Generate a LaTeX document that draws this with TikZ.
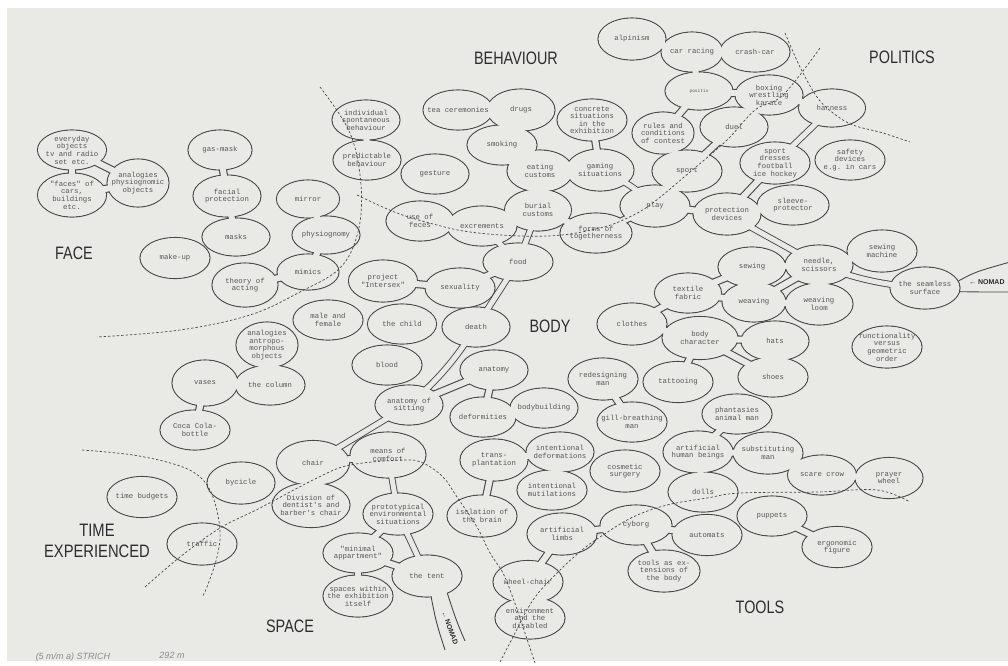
\documentclass[tikz,border=0pt]{standalone}
\usepackage{fontspec}
\usepackage{graphicx}
\usetikzlibrary{shapes.geometric}
\setmonofont{Liberation Mono}
\newfontfamily\hdfont{Liberation Sans}
\definecolor{paper}{RGB}{233,233,230}
\definecolor{ink}{RGB}{72,72,72}
\definecolor{txt}{RGB}{85,85,85}
\definecolor{headc}{RGB}{45,45,45}
\tikzset{
 bub/.style={ellipse, draw=ink, line width=1.1pt, fill=paper, inner sep=0pt},
 bubfill/.style={ellipse, fill=paper, inner sep=0pt},
 lbl/.style={align=center, font=\ttfamily\fontsize{7.3}{7.6}\selectfont, text=txt, inner sep=0pt},
 neck/.style={draw=ink, line width=1.1pt, double=paper, double distance=#1},
 neck/.default=6pt,
 road/.style={draw=ink, line width=0.9pt, double=paper, double distance=#1},
 road/.default=5pt,
 edgeline/.style={draw=ink, line width=0.9pt},
 zone/.style={draw=ink, line width=0.7pt, dash pattern=on 2.4pt off 2pt},
 heading/.style={font=\hdfont\fontsize{18}{21}\selectfont, text=headc, inner sep=0pt, align=center},
 nomadtxt/.style={font=\hdfont\bfseries\fontsize{7}{8}\selectfont, text=headc, inner sep=0pt},
}
\newcommand\bublist{%
\Bub{evd}{72}{150}{69}{40}{everyday\\objects\\tv and radio\\set etc.}%
\Bub{fcs}{72}{195}{69}{44}{"faces" of\\cars,\\buildings\\etc.}%
\Bub{anph}{138}{183}{62}{48}{analogies\\physiognomic\\objects}%
\Bub{gas}{220}{150}{64}{40}{gas-mask}%
\Bub{facp}{227}{196}{68}{42}{facial\\protection}%
\Bub{masks}{236}{237}{68}{38}{masks}%
\Bub{makeup}{175}{258}{70}{41}{make-up}%
\Bub{mirror}{308}{199}{63}{38}{mirror}%
\Bub{physio}{326}{235}{68}{38}{physiognomy}%
\Bub{mimics}{308}{272}{62}{36}{mimics}%
\Bub{theory}{245}{285}{66}{44}{theory of\\acting}%
\Bub{antropo}{267}{345}{62}{46}{analogies\\antropo-\\morphous\\objects}%
\Bub{column}{270}{385}{70}{40}{the column}%
\Bub{vases}{205}{383}{66}{46}{vases}%
\Bub{coca}{195}{430}{70}{40}{Coca Cola-\\bottle}%
\Bub{indiv}{366}{120}{68}{40}{individual\\spontaneous\\behaviour}%
\Bub{pred}{367}{160}{68}{40}{predictable\\behaviour}%
\Bub{tea}{458}{110}{70}{40}{tea ceremonies}%
\Bub{drugs}{521}{110}{68}{42}{drugs}%
\Bub{smoking}{502}{145}{70}{40}{smoking}%
\Bub{gesture}{435}{174}{68}{40}{gesture}%
\Bub{eating}{540}{171}{66}{42}{eating\\customs}%
\Bub{burial}{538}{210}{67}{42}{burial\\customs}%
\Bub{concrete}{592}{120}{70}{42}{concrete\\situations\\in the\\exhibition}%
\Bub{gaming}{600}{170}{68}{42}{gaming\\situations}%
\Bub{forms}{596}{233}{72}{40}{forms of\\togetherness}%
\Bub{play}{655}{206}{70}{42}{play}%
\Bub{sport}{687}{171}{70}{42}{sport}%
\Bub{rules}{663}{133}{62}{42}{rules and\\conditions\\of contest}%
\Bub{positiv}{699}{91}{68}{38}{\fontsize{4.5}{5}\selectfont positiv}%
\Bub{alpinism}{632}{39}{68}{42}{alpinism}%
\Bub{carracing}{692}{52}{62}{40}{car racing}%
\Bub{crashcar}{755}{52}{70}{40}{crash-car}%
\Bub{boxing}{769}{95}{68}{40}{boxing\\wrestling\\karate}%
\Bub{duel}{734}{127}{68}{40}{duel}%
\Bub{harness}{832}{108}{67}{38}{harness}%
\Bub{safety}{850}{160}{70}{40}{safety\\devices\\e.g. in cars}%
\Bub{sportdr}{775}{163}{70}{42}{sport\\dresses\\football\\ice hockey}%
\Bub{protect}{727}{214}{68}{42}{protection\\devices}%
\Bub{sleeve}{793}{205}{72}{40}{sleeve-\\protector}%
\Bub{feces}{420}{221}{68}{40}{use of\\feces}%
\Bub{excr}{482}{226}{70}{40}{excrements}%
\Bub{food}{518}{262}{70}{38}{food}%
\Bub{intersex}{383}{281}{69}{42}{project\\"Intersex"}%
\Bub{sexuality}{460}{288}{70}{40}{sexuality}%
\Bub{malefem}{328}{320}{70}{40}{male and\\female}%
\Bub{child}{402}{324}{69}{40}{the child}%
\Bub{death}{476}{327}{68}{40}{death}%
\Bub{blood}{387}{365}{70}{40}{blood}%
\Bub{anatomy}{494}{370}{68}{40}{anatomy}%
\Bub{anasit}{409}{405}{68}{40}{anatomy of\\sitting}%
\Bub{deform}{483}{417}{66}{40}{deformities}%
\Bub{bodyb}{544}{408}{68}{40}{bodybuilding}%
\Bub{means}{388}{455}{76}{46}{means of\\comfort}%
\Bub{chair}{313}{463}{73}{45}{chair}%
\Bub{bycicle}{241}{483}{68}{42}{bycicle}%
\Bub{timeb}{142}{497}{70}{41}{time budgets}%
\Bub{traffic}{202}{544}{70}{42}{traffic}%
\Bub{division}{311}{505}{78}{45}{Division of\\dentist's and\\barber's chair}%
\Bub{proto}{398}{514}{70}{42}{prototypical\\environmental\\situations}%
\Bub{minimal}{358}{553}{70}{40}{"minimal\\appartment"}%
\Bub{spaces}{358}{596}{70}{42}{spaces within\\the exhibition\\itself}%
\Bub{tent}{427}{576}{70}{42}{the tent}%
\Bub{transp}{494}{460}{68}{42}{trans-\\plantation}%
\Bub{isolation}{482}{516}{70}{42}{isolation of\\the brain}%
\Bub{intdef}{560}{452}{68}{40}{intentional\\deformations}%
\Bub{intmut}{552}{490}{70}{40}{intentional\\mutilations}%
\Bub{cosmetic}{625}{471}{70}{42}{cosmetic\\surgery}%
\Bub{arthuman}{698}{452}{70}{42}{artificial\\human beings}%
\Bub{dolls}{703}{492}{70}{40}{dolls}%
\Bub{cyborg}{636}{525}{72}{40}{cyborg}%
\Bub{limbs}{562}{534}{70}{42}{artificial\\limbs}%
\Bub{automats}{707}{535}{70}{41}{automats}%
\Bub{toolsext}{664}{571}{72}{42}{tools as ex-\\tensions of\\the body}%
\Bub{wheel}{528}{582}{70}{43}{wheel-chair}%
\Bub{environ}{530}{618}{70}{42}{environment\\and the\\disabled}%
\Bub{subst}{768}{453}{70}{42}{substituting\\man}%
\Bub{phant}{737}{414}{70}{40}{phantasies\\animal man}%
\Bub{scare}{822}{475}{69}{40}{scare crow}%
\Bub{prayer}{889}{478}{68}{41}{prayer\\wheel}%
\Bub{puppets}{772}{516}{70}{40}{puppets}%
\Bub{ergo}{837}{547}{70}{41}{ergonomic\\figure}%
\Bub{clothes}{632}{324}{70}{42}{clothes}%
\Bub{textile}{688}{293}{67}{40}{textile\\fabric}%
\Bub{bodych}{700}{338}{76}{43}{body\\character}%
\Bub{tattoo}{678}{382}{70}{41}{tattooing}%
\Bub{redesign}{603}{379}{70}{42}{redesigning\\man}%
\Bub{gill}{632}{422}{70}{40}{gill-breathing\\man}%
\Bub{sewing}{752}{267}{68}{40}{sewing}%
\Bub{weaving}{754}{302}{64}{40}{weaving}%
\Bub{needle}{819}{265}{68}{40}{needle,\\scissors}%
\Bub{loom}{819}{304}{68}{42}{weaving\\loom}%
\Bub{sewmach}{882}{251}{70}{42}{sewing\\machine}%
\Bub{seamless}{925}{288}{70}{42}{the seamless\\surface}%
\Bub{hats}{775}{341}{68}{40}{hats}%
\Bub{shoes}{773}{377}{70}{40}{shoes}%
\Bub{functional}{887}{347}{70}{42}{functionality\\versus\\geometric\\order}%
}
\begin{document}
\begin{tikzpicture}[x=1pt,y=-1pt]
\useasboundingbox (0,0) rectangle (1008,665);
\fill[white] (0,0) rectangle (1008,665);
\fill[paper] (7,8) rectangle (1008,661);
% pass 1: outlines
\def\Bub#1#2#3#4#5#6{\node[bub,minimum width=#4pt,minimum height=#5pt] (#1) at (#2,#3) {};}
\bublist
% free ends
\coordinate (nomT1) at (429,586);
\coordinate (nomT2) at (445,586);
\coordinate (nomL) at (445,650);
\coordinate (nomR) at (465,641);
\coordinate (nomadE1) at (1010,262);
\coordinate (nomadE2) at (1010,292);
% necks
\foreach \a/\b in {evd/fcs, evd/anph, fcs/anph, gas/facp, facp/masks, mirror/physio, physio/mimics, mimics/theory, antropo/column, vases/column, vases/coca,
 indiv/pred, tea/drugs, drugs/smoking, smoking/eating, eating/burial, eating/gaming, concrete/gaming, burial/forms, forms/play, play/sport, sport/rules, rules/positiv, positiv/carracing, carracing/alpinism, carracing/crashcar, positiv/boxing, boxing/duel, duel/sport, boxing/harness, play/protect, protect/sleeve, protect/sportdr, feces/excr,
 sexuality/intersex, food/sexuality, anatomy/anasit, anatomy/deform, deform/bodyb, chair/means, chair/division, proto/minimal, minimal/spaces, minimal/tent,
 transp/isolation, transp/intdef, intdef/intmut, limbs/cyborg, cyborg/automats, cyborg/toolsext, limbs/wheel, wheel/environ,
 arthuman/dolls, arthuman/subst, phant/arthuman, subst/scare, scare/prayer, puppets/ergo,
 clothes/textile, clothes/bodych, textile/sewing, textile/weaving, bodych/hats, bodych/shoes, bodych/tattoo, hats/shoes, redesign/gill, sewing/needle, weaving/needle, weaving/loom, needle/loom, needle/sewmach, sewing/weaving}
 {\draw[neck] (\a.center) -- (\b.center);}
% roads
\draw[road] (gaming.center) to[bend left=10] (play.center);
\draw[road] (burial.center) -- (food.center);
\draw[road] (excr.center) -- (food.center);
\draw[road] (food.center) -- (death.center);
\draw[road] (death.center) to[bend left=8] (anasit.center);
\draw[road] (anasit.center) -- (chair.center);
\draw[road] (means.center) -- (proto.center);
\draw[road] (proto.center) -- (tent.center);
\draw[road] (harness.center) -- (sportdr.center);
\draw[road] (protect.center) -- (needle.center);
\draw[road] (needle.center) to[bend right=8] (seamless.center);
% road from the tent to the lower edge (NOMAD)
\fill[paper] (nomT1) -- (nomL) -- (nomR) -- (nomT2) -- cycle;
\draw[edgeline] (nomT1) .. controls (436,622) .. (nomL);
\draw[edgeline] (nomT2) .. controls (456,620) .. (nomR);
% road from the seamless surface to the right edge (NOMAD)
\draw[edgeline] (seamless.12) .. controls (975,272) .. (nomadE1);
\draw[edgeline] (seamless.-6) .. controls (980,292) .. (nomadE2);
% pass 2: interiors
\def\Bub#1#2#3#4#5#6{\node[bubfill,minimum width={(#4-1.2)*1pt},minimum height={(#5-1.2)*1pt}] (#1-f) at (#2,#3) {};}
\bublist
% pass 3: labels
\def\Bub#1#2#3#4#5#6{\node[lbl] (#1-t) at (#2,#3) {#6};}
\bublist
% zone boundaries
\draw[zone] plot[smooth, tension=0.6] coordinates {(320,87) (350,133) (361,185) (358,232) (340,268) (300,292) (250,315) (180,330) (97,337)};
\draw[zone] plot[smooth, tension=0.6] coordinates {(357,195) (397,213) (437,225) (470,232) (520,236) (562,235) (600,228) (623,220) (650,205) (690,172) (727,140) (755,110) (783,95) (820,48)};
\draw[zone] plot[smooth, tension=0.6] coordinates {(785,33) (800,67) (817,97) (833,113) (853,125) (883,133) (910,142)};
\draw[zone] plot[smooth, tension=0.6] coordinates {(82,450) (133,455) (177,465) (200,477) (213,497) (220,530) (217,557) (207,587) (202,597)};
\draw[zone] plot[smooth, tension=0.6] coordinates {(145,587) (180,557) (220,528) (260,508) (317,478) (350,465) (403,460) (423,463) (443,477) (457,497) (477,527) (490,553) (503,573) (513,598) (525,633) (535,663)};
\draw[zone] plot[smooth, tension=0.6] coordinates {(500,662) (513,637) (533,600) (557,573) (582,550) (603,535) (633,517) (667,505) (707,498) (740,493) (817,492) (877,490) (910,502)};
% headings
\node[heading] (hBeh) at (516,58) {\scalebox{0.8}[1]{BEHAVIOUR}};
\node[heading] (hPol) at (902,57) {\scalebox{0.8}[1]{POLITICS}};
\node[heading] (hFace) at (74,253) {\scalebox{0.8}[1]{FACE}};
\node[heading] (hBody) at (550,326) {\scalebox{0.8}[1]{BODY}};
\node[heading] (hTime) at (97,541) {\scalebox{0.82}[1]{TIME}\\\scalebox{0.82}[1]{EXPERIENCED}};
\node[heading] (hSpace) at (290,626) {\scalebox{0.8}[1]{SPACE}};
\node[heading] (hTools) at (760,607) {\scalebox{0.8}[1]{TOOLS}};
% nomad labels
\node[nomadtxt, anchor=west] (nomE) at (969,282) {← NOMAD};
\node[nomadtxt, rotate=-70] (nomS) at (450,628) {←\hspace{2pt}NOMAD};
% handwriting
\node[font=\hdfont\itshape\fontsize{9}{10}\selectfont, text=black!45, inner sep=0pt] (hw1) at (73,657) {(5 m/m a) STRICH};
\node[font=\hdfont\itshape\fontsize{9}{10}\selectfont, text=black!45, inner sep=0pt] (hw2) at (172,655) {292 m};
\end{tikzpicture}
\end{document}
